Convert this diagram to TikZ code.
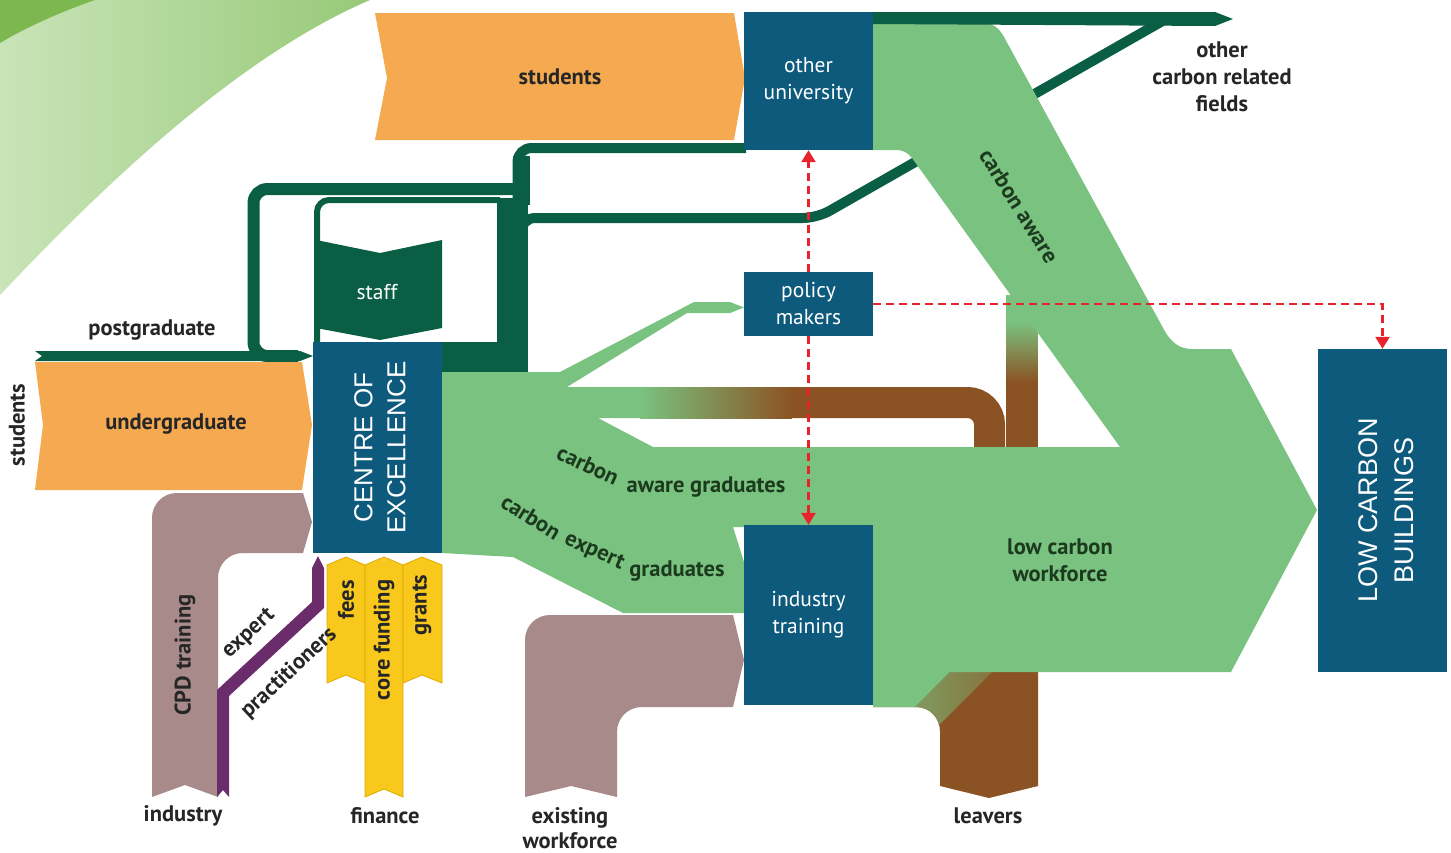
\documentclass[tikz,border=0pt]{standalone}
\usepackage{fontspec}
\setmainfont{PT Sans}
\newfontfamily\capsfont{Liberation Sans}
\usetikzlibrary{arrows.meta}
\definecolor{cgreen}{HTML}{7AC280}
\definecolor{cdark}{HTML}{0A5E44}
\definecolor{cbrown}{HTML}{8B5323}
\definecolor{corange}{HTML}{F5AA52}
\definecolor{cmauve}{HTML}{A88A8A}
\definecolor{cpurple}{HTML}{6B2C6B}
\definecolor{cyellow}{HTML}{F8C91C}
\definecolor{cyedge}{HTML}{E0AA00}
\definecolor{cblue}{HTML}{0D5A7D}
\definecolor{cred}{HTML}{E8232B}
\definecolor{ctext}{HTML}{262626}
\definecolor{cgtext}{HTML}{1C3A1E}
\definecolor{decoA}{HTML}{C9E4B8}
\definecolor{decoB}{HTML}{97C978}
\definecolor{decoC}{HTML}{7CB84F}
\begin{document}
\begin{tikzpicture}[x=1pt,y=-1pt,
  box/.style={fill=cblue, text=white, align=center, inner sep=0pt, font=\fontsize{21.5}{27}\selectfont},
  wlbl/.style={text=white, align=center, inner sep=0pt, font=\fontsize{21.5}{27}\selectfont},
  lbl/.style={text=ctext, align=center, inner sep=0pt, font=\fontsize{22.5}{27}\selectfont\bfseries},
  glbl/.style={text=cgtext, align=center, inner sep=0pt, font=\fontsize{22.5}{27}\selectfont\bfseries},
  caps/.style={text=white, align=center, inner sep=0pt, rotate=90},
  reddash/.style={draw=cred, line width=2.6pt, dash pattern=on 8pt off 5pt, -{Triangle[width=14pt,length=12pt]}},
  yarrow/.style={fill=cyellow, draw=cyedge, line width=0.8pt},
]
\useasboundingbox (0,0) rectangle (1451,852);
\fill[white] (0,0) rectangle (1451,852);
% decoration
\shade[left color=decoA, right color=decoB] (0,0) -- (370,0) .. controls (230,60) and (90,200) .. (0,295) -- cycle;
\fill[decoC] (0,0) -- (95,0) .. controls (60,12) and (25,28) .. (0,43) -- cycle;

% dark green flows
\fill[cdark] (497,198) rectangle (528,372);
\fill[cdark] (440,342) rectangle (528,372);
\draw[cdark, line width=17pt] (521.5,205) -- (521.5,156);
\draw[cdark, line width=10pt, rounded corners=14pt] (517.5,200) -- (517.5,148) -- (746,148);
\draw[cdark, line width=10pt, rounded corners=14pt] (521,250) -- (521,218) -- (817,218) -- (1166,19);
\draw[cdark, line width=12pt, rounded corners=14pt] (522,189) -- (253.5,189) -- (253.5,356) -- (298,356);
\draw[cdark, line width=6pt, rounded corners=12pt] (500,200) -- (317,200) -- (317,342);
\fill[cdark] (316,240) -- (380,253) -- (442,240) -- (442,328) -- (380,340) -- (316,328) -- cycle;
\fill[cdark] (35,351) -- (300,351) -- (313,356) -- (300,361) -- (35,361) -- (42,356) -- cycle;

% leavers
\begin{scope}
\clip (873,660) -- (1038,660) -- (1038,786) -- (989,798) -- (940,786) -- (940,732) .. controls (940,718) and (930,707) .. (916,707) -- (873,707) -- cycle;
\fill[cbrown] (860,650) rectangle (1050,800);
\begin{scope}[shift={(948,695)}, rotate=-45]
 \fill[cgreen] (-150,-150) rectangle (-14,150);
 \shade[left color=cgreen, right color=cbrown] (-15,-150) rectangle (15,150);
\end{scope}
\end{scope}

% green flows
\fill[cgreen] (442,372) -- (560,372) -- (694,302) -- (730,302) -- (744,307.5) -- (730,313) -- (687,313) -- (567,387) -- (642,387) -- (642,418) -- (598,418) -- (653,447) -- (880,447) -- (880,525) -- (744,525) -- (744,527) -- (733,527) -- (744,562) -- (744,613) -- (623,613) -- (513,557) -- (442,553) -- cycle;
\draw[cbrown, line width=31pt, rounded corners=22pt] (780,402.5) -- (989.5,402.5) -- (989.5,470);
\shade[left color=cgreen, right color=cbrown] (640,387) rectangle (792,418);
\fill[cbrown] (1006,380) rectangle (1037.5,460);
\shade[top color=cgreen, bottom color=cbrown] (1006,322) rectangle (1037.5,382);
\fill[cgreen] (1006,295) rectangle (1037.5,323);
\fill[cgreen] (873,23) -- (983,23) .. controls (993,23) and (999,28) .. (1004,37) -- (1162,326) .. controls (1168,338) and (1176,349) .. (1192,349) -- (1231,349) -- (1317,510) -- (1231,672) -- (873,672) -- (873,447) -- (1120,447) -- (912,158) .. controls (907,152) and (903,150) .. (895,150) -- (873,150) -- cycle;
\fill[cdark] (873,12) -- (1215,12) -- (1233,19) -- (1215,26) -- (873,24) -- cycle;

% orange
\fill[corange] (375,13) -- (734,13) -- (745,78) -- (734,140) -- (375,140) -- (387,78) -- cycle;
\fill[corange] (35,362) -- (302,362) -- (312,425) -- (302,490) -- (35,490) -- (43,425) -- cycle;
% mauve
\fill[cmauve] (152,797) -- (152,518) .. controls (152,504) and (163,493) .. (177,493) -- (303,493) -- (312,522) -- (303,553) -- (243,553) .. controls (229,553) and (218,564) .. (218,578) -- (218,797) -- (185,785) -- cycle;
\fill[cmauve] (525,797) -- (525,640) .. controls (525,626) and (536,615) .. (550,615) -- (733,615) -- (744,660) -- (733,707) -- (642,707) .. controls (628,707) and (617,718) .. (617,732) -- (617,797) -- (571,786) -- cycle;
% purple
\fill[cpurple] (217,797) -- (217,690) -- (312,602) -- (312,568) -- (318,556) -- (324,568) -- (324,608) -- (229,696) -- (229,797) -- (223,790) -- cycle;
% yellow
\filldraw[yarrow] (327,565) -- (346,557) -- (365,565) -- (365,683) -- (346,675) -- (327,683) -- cycle;
\filldraw[yarrow] (365,565) -- (384,557) -- (403,565) -- (403,797) -- (384,789) -- (365,797) -- cycle;
\filldraw[yarrow] (403,565) -- (422,557) -- (442,565) -- (442,683) -- (422,675) -- (403,683) -- cycle;

% boxes
\node[box, minimum width=129pt, minimum height=138pt] (ou) at (808.5,81) {other\\university};
\node[box, minimum width=129pt, minimum height=64pt] (pm) at (808.5,304) {policy\\makers};
\node[box, minimum width=129pt, minimum height=180pt] (it) at (808.5,615) {industry\\training};
\node[box, minimum width=129pt, minimum height=211pt] (coe) at (377.5,447.5) {};
\node[box, minimum width=129pt, minimum height=323pt] (lcb) at (1382.5,510.5) {};
\node[caps, font=\capsfont\fontsize{26}{33}\selectfont] (coet) at (380,447.5) {CENTRE OF\\EXCELLENCE};
\node[caps, font=\capsfont\fontsize{27}{36}\selectfont] (lcbt) at (1386,510.5) {LOW CARBON\\BUILDINGS};

% red dashed
\draw[reddash] (pm.north) -- (ou.south);
\draw[reddash] (pm.south) -- (it.north);
\draw[reddash] (pm.east) -| (lcb.north);

% labels
\node[lbl] (l1) at (560,77) {students};
\node[lbl] (l2) at (176,424) {undergraduate};
\node[lbl, rotate=90] (l3) at (17,425) {students};
\node[lbl] (l4) at (152,330) {postgraduate};
\node[wlbl] (l5) at (377,292) {staff};
\node[lbl, rotate=90] (l6) at (185,655) {CPD training};
\node[lbl, rotate=43] (l7) at (249,634) {expert};
\node[lbl, rotate=43] (l8) at (289,673) {practitioners};
\node[lbl, rotate=90] (l9) at (346,600) {fees};
\node[lbl, rotate=90] (l10) at (384,640) {core funding};
\node[lbl, rotate=90] (l11) at (422,605) {grants};
\node[lbl] (l12) at (183,816) {industry};
\node[lbl] (l13) at (385,816) {finance};
\node[lbl, font=\fontsize{22.5}{25}\selectfont\bfseries] (l14) at (570,828) {existing\\workforce};
\node[lbl] (l15) at (988,816) {leavers};
\node[lbl] (l16) at (1222,77) {other\\carbon related\\fields};
\node[glbl] (l17) at (1060,560) {low carbon\\workforce};
\node[glbl, rotate=-58] (l18) at (1019,206) {carbon aware};
\node[glbl, rotate=-25] (l19) at (588,465) {carbon};
\node[glbl] (l20) at (706,487) {aware graduates};
\node[glbl, rotate=-32] (l21) at (531,517) {carbon};
\node[glbl, rotate=-24] (l22) at (594,552) {expert};
\node[glbl] (l23) at (677,571) {graduates};
\end{tikzpicture}
\end{document}
